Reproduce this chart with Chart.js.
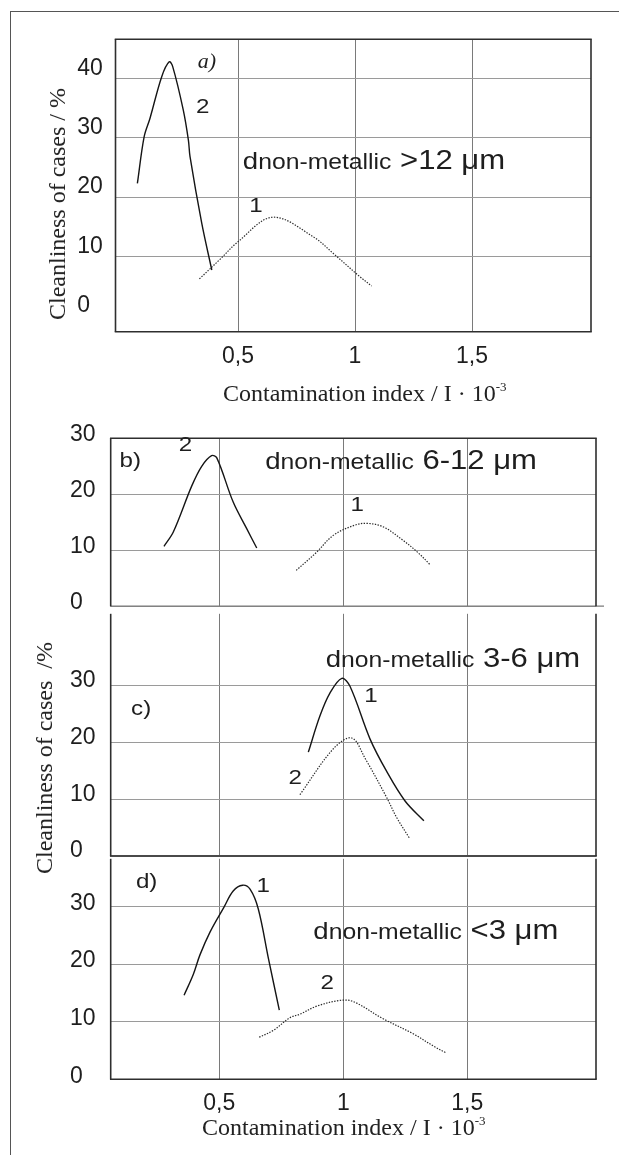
<!DOCTYPE html>
<html><head><meta charset="utf-8">
<script src="https://cdn.jsdelivr.net/npm/chart.js@4.4.1/dist/chart.umd.min.js"></script>
<style>
html,body{margin:0;padding:0;background:#fff;}
#page{position:relative;width:619px;height:1155px;overflow:hidden;background:#fff;}
#outer{position:absolute;left:10px;top:11px;width:700px;height:1300px;border-left:1.5px solid #555;border-top:1.5px solid #555;}
canvas{position:absolute;left:0;}
.ttl{position:absolute;font-family:"Liberation Serif",serif;font-size:24px;line-height:24px;color:#222;white-space:pre;}
.rot{transform:translate(-50%,-50%) rotate(-90deg);}
.sup{font-size:13px;position:relative;top:-10px;}
</style></head><body>
<div id="page">
<div id="outer"></div>
<canvas id="ca" style="top:0px" width="619" height="420"></canvas>
<canvas id="cb" style="top:420px" width="619" height="200"></canvas>
<canvas id="cc" style="top:600px" width="619" height="270"></canvas>
<canvas id="cd" style="top:845px" width="619" height="310"></canvas>
<div class="ttl rot" style="left:57px;top:204px;">Cleanliness of cases / %</div>
<div class="ttl" style="left:223px;top:381px;">Contamination index / I · 10<span class="sup">-3</span></div>
<div class="ttl rot" style="left:44px;top:758px;">Cleanliness of cases  /%</div>
<div class="ttl" style="left:202px;top:1115px;">Contamination index / I · 10<span class="sup">-3</span></div>
</div>
<script>
// ---------- data ----------
const xTicks = [0.5, 1, 1.5];
const xTickLabels = ['0,5', '1', '1,5'];
const yTicksA = [0, 10, 20, 30, 40];
const yTicksBCD = [0, 10, 20, 30];

// a) d > 12 um
const a1X = [0.335, 0.423, 0.501, 0.648, 0.822, 0.907, 1.02, 1.071];
const a1Y = [6.2, 9.5, 12.5, 16.6, 13.3, 10.5, 6.6, 5.0];
const a2X = [0.070, 0.099, 0.124, 0.174, 0.206, 0.221, 0.266, 0.288, 0.295, 0.345, 0.388];
const a2Y = [22.3, 30.2, 33.3, 40.3, 42.8, 42.0, 34.7, 29.6, 26.8, 15.6, 7.7];
// b) d 6-12 um
const b1X = [0.810, 0.889, 0.961, 1.048, 1.096, 1.160, 1.240, 1.303, 1.348];
const b1Y = [6.4, 9.5, 12.7, 14.5, 14.8, 14.2, 11.8, 9.5, 7.5];
const b2X = [0.277, 0.315, 0.389, 0.429, 0.469, 0.490, 0.556, 0.610, 0.651];
const b2Y = [10.7, 13.3, 21.5, 25.0, 26.9, 26.5, 18.6, 13.9, 10.4];
// c) d 3-6 um
const c1X = [0.859, 0.906, 0.946, 0.994, 1.027, 1.108, 1.175, 1.249, 1.325];
const c1Y = [18.3, 24.7, 28.7, 31.3, 29.9, 20.6, 14.9, 9.7, 6.2];
const c2X = [0.825, 0.960, 1.034, 1.088, 1.175, 1.215, 1.266];
const c2Y = [10.8, 18.9, 20.8, 17.2, 10.3, 6.8, 3.2];
// d) d < 3 um
const d1X = [0.358, 0.395, 0.422, 0.463, 0.519, 0.556, 0.594, 0.624, 0.657, 0.698, 0.742];
const d1Y = [14.6, 18.2, 21.6, 25.6, 29.9, 32.7, 33.7, 33.0, 29.6, 21.0, 12.0];
const d2X = [0.661, 0.718, 0.785, 0.825, 0.893, 0.987, 1.040, 1.161, 1.282, 1.370, 1.414];
const d2Y = [7.3, 8.5, 10.7, 11.3, 12.7, 13.7, 13.5, 10.5, 7.9, 5.6, 4.6];

// panel annotations (text, x, y in data units)
const panelLetters = ['a)', 'b)', 'c)', 'd)'];
const panelLetterX = [0.3675, 0.141, 0.185, 0.207];
const panelLetterY = [42.76, 25.9, 25.8, 34.3];
const curveTagA = [['2', 0.349, 35.1], ['1', 0.577, 18.4]];
const curveTagB = [['2', 0.364, 28.8], ['1', 1.056, 18.0]];
const curveTagC = [['1', 1.112, 28.1], ['2', 0.806, 13.7]];
const curveTagD = [['1', 0.677, 33.6], ['2', 0.935, 16.7]];
const sizeLabels = ['>12 μm', '6-12 μm', '3-6 μm', '<3 μm'];
const sizeLabelX = [0.5205, 0.685, 0.929, 0.879];
const sizeLabelY = [24.8, 24.5, 33.3, 24.3];

// ---------- helpers ----------
Chart.defaults.font.family = '"Liberation Sans", Arial, sans-serif';
const pts = (xs, ys) => xs.map((x, i) => ({ x, y: ys[i] }));
const STRETCH = 1.15;

function drawStretched(ctx, text, px, py, font, align, baseline, stretch) {
  ctx.save();
  ctx.font = font;
  ctx.textBaseline = baseline;
  ctx.textAlign = 'left';
  const w = ctx.measureText(text).width * stretch;
  let x0 = px;
  if (align === 'center') x0 = px - w / 2;
  ctx.translate(x0, py);
  ctx.scale(stretch, 1);
  ctx.fillStyle = '#1e1e1e';
  ctx.fillText(text, 0, 0);
  ctx.restore();
  return w;
}

const deco = {
  id: 'deco',
  beforeDatasetsDraw(chart, args, o) {
    const { ctx, chartArea: a } = chart;
    const line = (x1, y1, x2, y2, st) => {
      if (!st) return;
      ctx.save();
      ctx.beginPath();
      ctx.strokeStyle = st.color;
      ctx.lineWidth = st.width;
      ctx.moveTo(x1, y1); ctx.lineTo(x2, y2); ctx.stroke();
      ctx.restore();
    };
    const f = o.frame || {};
    line(a.left - 0.75, a.top, a.right + 0.75, a.top, f.top);
    line(a.left - 0.75, a.bottom, a.right + (f.bottom && f.bottom.extend ? f.bottom.extend : 0.75), a.bottom, f.bottom);
    line(a.left, a.top, a.left, a.bottom, f.left);
    line(a.right, a.top, a.right, a.bottom, f.right);
  },
  afterDraw(chart, args, o) {
    const { ctx, scales: { x, y } } = chart;
    const i = o.panel;
    const lf = i === 0 ? 'italic 22px "Liberation Serif"' : '21px "Liberation Sans"';
    drawStretched(ctx, panelLetters[i], x.getPixelForValue(panelLetterX[i]), y.getPixelForValue(panelLetterY[i]),
      lf, 'center', 'middle', i === 0 ? 1 : STRETCH);
    (o.tags || []).forEach(t => {
      drawStretched(ctx, t[0], x.getPixelForValue(t[1]), y.getPixelForValue(t[2]),
        '21px "Liberation Sans"', 'center', 'middle', STRETCH);
    });
    let px = x.getPixelForValue(sizeLabelX[i]);
    const py = y.getPixelForValue(sizeLabelY[i]);
    px += drawStretched(ctx, 'd', px, py, '24px "Liberation Sans"', 'left', 'alphabetic', STRETCH);
    px += drawStretched(ctx, 'non-metallic', px, py, '21.5px "Liberation Sans"', 'left', 'alphabetic', STRETCH);
    drawStretched(ctx, ' ' + sizeLabels[i], px, py, '27px "Liberation Sans"', 'left', 'alphabetic', STRETCH);
  }
};

function xScale(min, max, showLabels, height) {
  return {
    type: 'linear', min, max,
    afterBuildTicks: s => { s.ticks = xTicks.map(v => ({ value: v })); },
    afterFit: s => { s.height = height; },
    ticks: {
      display: showLabels, autoSkip: false, maxRotation: 0, padding: 11,
      color: '#1e1e1e', font: { size: 23 },
      callback: v => { const k = xTicks.indexOf(v); return k >= 0 ? xTickLabels[k] : ''; }
    },
    grid: { color: '#7a7a7a', lineWidth: 1, drawTicks: false },
    border: { display: false }
  };
}
function yScale(min, max, ticksArr, labelOffset, width, hideZero) {
  return {
    type: 'linear', min, max,
    afterBuildTicks: s => { s.ticks = ticksArr.map(v => ({ value: v })); },
    afterFit: s => { s.width = width; },
    ticks: { crossAlign: 'far', padding: 0, labelOffset, color: '#1e1e1e', font: { size: 23 }, autoSkip: false },
    grid: {
      drawTicks: false, lineWidth: 1,
      color: c => (hideZero && c.tick && c.tick.value === 0) ? 'rgba(0,0,0,0)' : '#9a9a9a'
    },
    border: { display: false }
  };
}
const solid = (data) => ({ data, borderColor: '#151515', borderWidth: 1.4, pointRadius: 0, tension: 0.35, fill: false });
const dotted = (data) => ({ data, borderColor: '#2a2a2a', borderWidth: 1.2, borderDash: [1.4, 1.4], pointRadius: 0, tension: 0.35, fill: false });

const FR = { color: '#2e2e2e', width: 1.6 };

function makeChart(id, cfg) {
  return new Chart(document.getElementById(id), {
    type: 'line',
    data: { datasets: cfg.datasets },
    options: {
      responsive: false, animation: false, devicePixelRatio: 1,
      layout: { padding: cfg.padding },
      plugins: { legend: { display: false }, tooltip: { enabled: false }, deco: cfg.deco },
      scales: { x: cfg.x, y: cfg.y }
    },
    plugins: [deco]
  });
}

makeChart('ca', {
  datasets: [dotted(pts(a1X, a1Y)), solid(pts(a2X, a2Y))],
  padding: { left: 77.3, top: 39.3, right: 28, bottom: 0 },
  x: xScale(-0.0235, 2.0085, true, 88.3),
  y: yScale(-2.7, 46.6, yTicksA, -10, 38.2, true),
  deco: { panel: 0, tags: curveTagA, frame: { top: FR, bottom: FR, left: FR, right: FR } }
});
makeChart('cb', {
  datasets: [dotted(pts(b1X, b1Y)), solid(pts(b2X, b2Y))],
  padding: { left: 70, top: 18.3, right: 23, bottom: 10.7 },
  x: xScale(0.0621, 2.019, false, 0),
  y: yScale(0, 30, yTicksBCD, -4, 40.7, false),
  deco: { panel: 1, tags: curveTagB, frame: { top: FR, left: FR, right: FR, bottom: { color: '#7a7a7a', width: 1.2, extend: 8 } } }
});
makeChart('cc', {
  datasets: [solid(pts(c1X, c1Y)), dotted(pts(c2X, c2Y))],
  padding: { left: 70, top: 9.3, right: 23, bottom: 14 },
  x: xScale(0.0621, 2.019, false, 0),
  y: yScale(0, 42.68, yTicksBCD, -5, 40.7, false),
  deco: { panel: 2, tags: curveTagC, frame: { left: FR, right: FR, bottom: { color: '#4a4a4a', width: 2.2 } } }
});
makeChart('cd', {
  datasets: [solid(pts(d1X, d1Y)), dotted(pts(d2X, d2Y))],
  padding: { left: 70, top: 11, right: 23, bottom: 0 },
  x: xScale(0.0621, 2.019, true, 75.7),
  y: yScale(0, 38.28, yTicksBCD, -3, 40.7, false),
  deco: { panel: 3, tags: curveTagD, frame: { left: FR, right: FR, bottom: FR } }
});
</script>
</body></html>
